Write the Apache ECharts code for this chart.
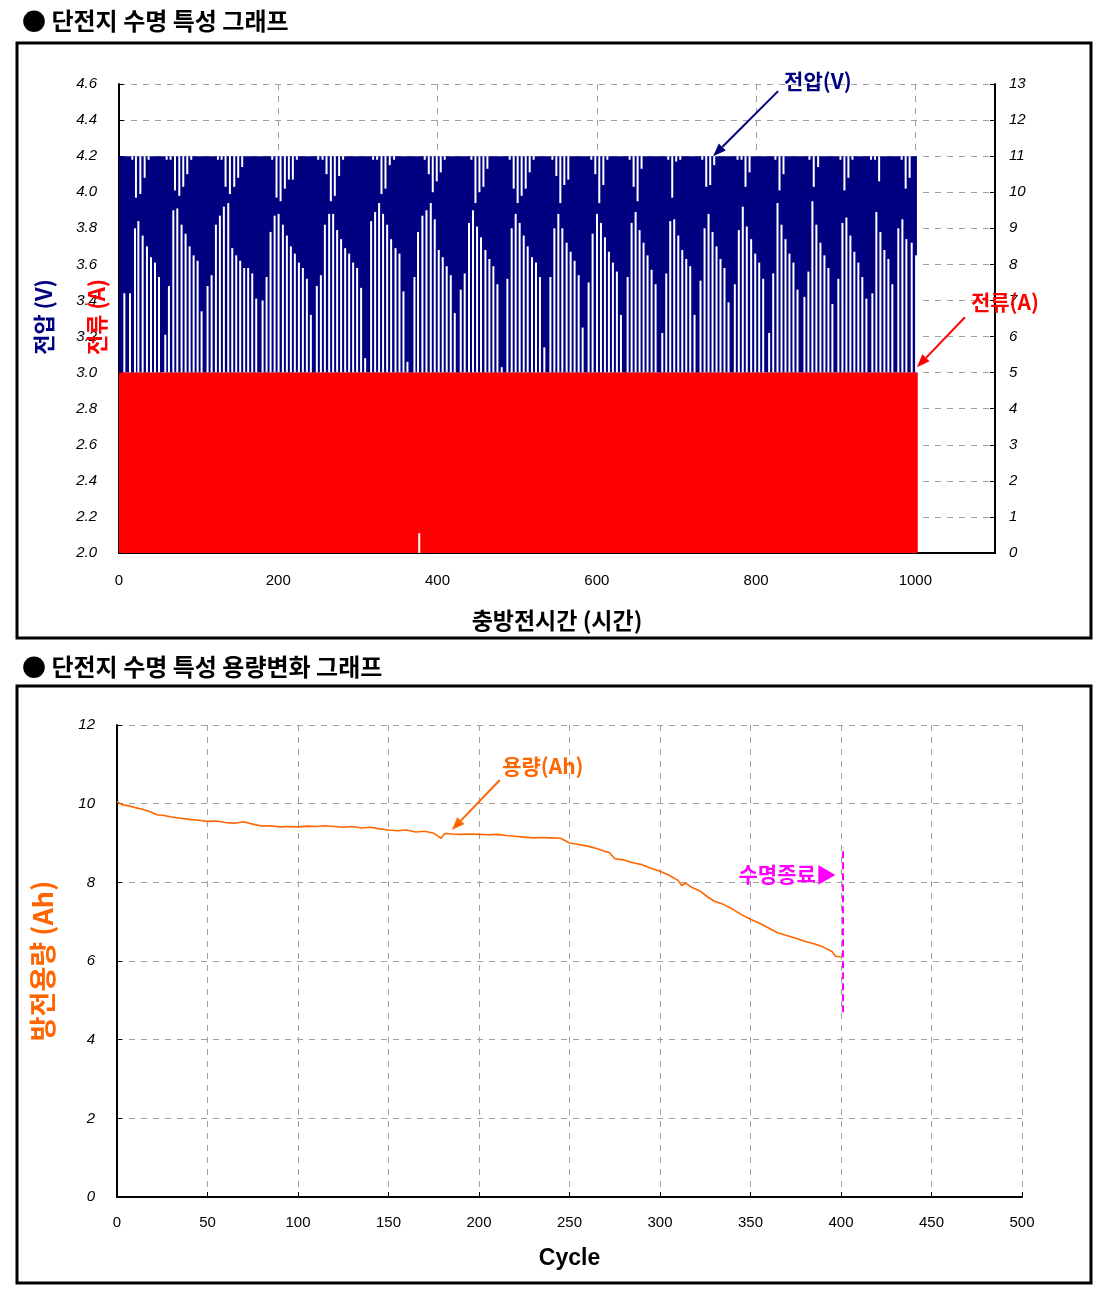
<!DOCTYPE html>
<html><head><meta charset="utf-8">
<script src="https://cdn.jsdelivr.net/npm/echarts@6/dist/echarts.min.js"></script>
<style>html,body{margin:0;padding:0;background:#fff}#c{width:1107px;height:1301px}</style>
</head><body><div id="c"></div>
<script>
// ---------------- DATA ----------------
// Chart 1: life-cycle test, time (h) vs voltage (V) and current (A)
const timeTicks = [0, 200, 400, 600, 800, 1000];
// voltage trace envelope (V) over the test duration (h)
const voltStart = 0, voltEnd = 1002, voltLow = 3.0, voltHigh = 4.2;
// current trace (A) over the test duration (h)
const currStart = 0, currEnd = 1003, currLow = 0, currHigh = 5;
// short interruption of the current trace: [time h, from A, to A]
const currGap = [[377, 0, 0.55]];
// gaps in the voltage trace (white strokes) rising from 3.0 V: time (h) and top (V)
const lowGapTime = [
  6.7,13.8,20.1,24.3,29.7,35.1,40.2,45.2,50.2,
  58.1,62.7,68.2,73.2,78.6,83.6,88.7,93.7,98.7,
  103.7,111.2,116.3,121.7,126.7,131.7,137.2,142.2,147.2,152.2,157.2,162.2,167.3,
  172.3,180.3,185.3,190.3,195.4,200.4,205.8,210.8,215.8,220.8,225.9,230.9,235.9,
  240.9,248.4,253.5,258.5,263.9,268.9,273.9,278.9,284.0,289.0,294.0,299.0,304.0,
  309.1,316.6,321.6,326.6,331.6,336.7,341.7,347.2,352.2,357.2,
  362.2,371.0,375.5,381.0,386.1,391.5,396.5,401.5,406.5,411.5,416.6,
  421.6,429.1,434.1,439.5,444.5,449.6,454.6,460.1,465.1,470.1,475.2,
  480.6,487.7,493.1,498.1,503.1,508.2,513.2,518.6,523.6,528.6,
  534.1,541.7,546.7,551.7,556.7,562.1,567.1,572.1,577.2,
  582.2,589.7,594.7,600.2,605.2,610.2,615.2,620.2,625.2,
  630.3,638.7,643.7,648.7,653.7,658.7,663.7,668.8,673.8,
  682.2,687.2,692.2,697.2,702.3,707.3,712.3,717.3,
  722.7,730.2,735.3,740.3,745.3,750.3,755.3,760.3,
  765.4,773.3,778.3,783.3,788.3,793.8,798.9,803.9,808.9,
  816.4,821.5,826.9,831.9,836.9,841.9,846.9,852.0,
  860.7,865.7,870.7,875.7,880.8,885.8,890.8,
  895.8,903.3,908.4,913.4,918.4,923.4,928.4,933.4,
  938.5,946.0,951.0,956.1,961.1,966.1,
  971.1,978.6,983.7,988.7,995.4,1000.9
];
const lowGapTop = [
  3.44,3.44,3.80,3.84,3.76,3.70,3.64,3.61,3.53,
  3.21,3.48,3.90,3.91,3.82,3.77,3.70,3.65,3.62,
  3.34,3.48,3.54,3.82,3.87,3.92,3.94,3.69,3.65,3.62,3.58,3.58,3.55,
  3.41,3.40,3.53,3.78,3.87,3.88,3.82,3.76,3.70,3.66,3.61,3.58,3.52,
  3.32,3.48,3.54,3.82,3.88,3.88,3.79,3.74,3.69,3.66,3.61,3.58,3.47,
  3.08,3.84,3.89,3.94,3.88,3.82,3.74,3.69,3.66,3.45,
  3.06,3.53,3.78,3.87,3.90,3.94,3.85,3.68,3.64,3.59,3.54,
  3.33,3.46,3.55,3.83,3.90,3.81,3.75,3.68,3.63,3.59,3.49,
  3.03,3.52,3.80,3.88,3.83,3.76,3.70,3.64,3.61,3.53,
  3.14,3.53,3.80,3.88,3.80,3.72,3.67,3.62,3.54,
  3.25,3.50,3.77,3.88,3.83,3.75,3.67,3.61,3.56,
  3.32,3.53,3.83,3.89,3.79,3.72,3.65,3.57,3.49,
  3.22,3.55,3.84,3.85,3.76,3.68,3.63,3.59,
  3.32,3.51,3.80,3.88,3.78,3.70,3.63,3.58,
  3.39,3.49,3.79,3.92,3.81,3.74,3.66,3.61,3.52,
  3.22,3.55,3.94,3.82,3.74,3.66,3.61,3.46,
  3.42,3.56,3.95,3.82,3.72,3.65,3.58,
  3.38,3.52,3.83,3.86,3.76,3.67,3.61,3.53,
  3.41,3.44,3.89,3.78,3.68,3.63,
  3.49,3.80,3.85,3.74,3.72,3.65
];
// gaps in the voltage trace hanging from 4.2 V: time (h) and bottom (V)
const highGapTime = [
  16.7,21.3,26.8,32.2,37.2,
  59.8,64.8,70.3,75.7,80.7,85.7,90.7,
  124.2,128.8,133.8,139.3,144.7,149.7,154.7,
  192.4,197.8,202.9,208.3,213.3,218.3,223.3,
  250.1,255.6,260.6,266.0,271.0,276.4,281.4,
  319.1,324.1,329.6,334.6,340.0,345.4,
  383.9,389.0,394.0,399.0,404.0,409.0,
  442.5,447.6,452.6,457.6,462.6,
  490.6,495.6,500.6,505.6,510.7,515.7,520.7,
  544.2,549.2,554.2,559.2,564.2,
  593.1,598.1,603.1,608.2,613.2,
  641.2,646.2,651.2,656.2,
  689.7,694.7,699.7,704.8,
  732.4,737.4,742.4,747.4,
  776.7,781.7,786.7,791.8,
  824.3,829.4,834.4,
  867.0,872.4,877.9,
  905.9,910.9,915.9,921.0,
  944.4,949.4,954.5,
  982.8,987.8,992.8
];
const highGapBottom = [
  4.18,3.97,3.99,4.08,4.18,
  4.18,4.18,4.01,3.98,4.03,4.10,4.18,
  4.18,4.18,4.03,3.99,4.03,4.08,4.14,
  4.18,3.97,3.95,4.02,4.07,4.07,4.18,
  4.18,4.18,4.10,3.95,3.98,4.09,4.18,
  4.18,4.18,3.99,4.02,4.15,4.18,
  4.18,4.10,4.00,4.06,4.11,4.18,
  4.18,3.94,4.00,4.03,4.13,
  4.18,4.02,3.94,3.98,4.02,4.11,4.18,
  4.18,4.09,3.94,4.04,4.07,
  4.18,4.10,3.94,4.04,4.18,
  4.18,4.03,3.95,4.13,
  4.18,3.97,4.17,4.18,
  4.18,4.03,4.04,4.15,
  4.18,4.18,4.03,4.11,
  4.18,4.01,4.10,
  4.18,4.03,4.14,
  4.18,4.01,4.08,4.18,
  4.18,4.18,4.06,
  4.18,4.02,4.08
];
// annotation anchors
const voltLabelAt = [746, 4.2];
const currLabelAt = [1002, 5.15];

// Chart 2: discharge capacity vs cycle
const capCycle = [0,3,6,10,14,18,22,26,30,35,40,45,50,55,60,65,70,75,80,85,90,95,100,105,110,115,120,125,130,
  135,140,145,150,155,160,165,170,175,179,181,185,190,195,200,205,210,215,220,225,230,235,240,245,248,250,255,
  260,265,270,272,275,280,285,290,295,300,305,310,312,314,318,322,326,330,335,340,345,350,355,360,365,370,375,
  380,385,390,395,397,400];
const capAh = [10.05,9.97,9.95,9.90,9.86,9.80,9.72,9.70,9.66,9.63,9.60,9.58,9.55,9.56,9.52,9.50,9.54,9.48,9.43,
  9.44,9.41,9.42,9.41,9.43,9.42,9.44,9.42,9.40,9.42,9.38,9.40,9.36,9.33,9.31,9.33,9.28,9.30,9.25,9.12,9.24,9.23,
  9.22,9.23,9.22,9.21,9.22,9.19,9.17,9.15,9.13,9.14,9.13,9.12,9.05,9.00,8.96,8.92,8.86,8.78,8.76,8.60,8.57,8.50,
  8.45,8.36,8.28,8.18,8.05,7.92,7.98,7.86,7.78,7.64,7.52,7.44,7.32,7.18,7.06,6.96,6.84,6.72,6.65,6.58,6.50,6.44,
  6.36,6.24,6.12,6.10];
const endOfLife = {cycle: 401, from: 4.7, to: 8.9};
const capLabelAt = [185, 9.33];
const eolLabelAt = [401, 8.2];

// ---------------- CHART ----------------
const KR = '"Noto Sans CJK KR","Noto Sans",sans-serif';
const NUM = '"Liberation Sans",Arial,sans-serif';
const NAVY = '#000080', RED = '#ff0000', ORANGE = '#ff6600', MAG = '#ff00ff';
const gridLine = {show: true, lineStyle: {color: '#a0a0a0', width: 1, type: [6, 6]}};
const blackLine = {show: true, onZero: false, lineStyle: {color: '#000', width: 2}};
const tick = {show: true, inside: true, length: 5, lineStyle: {color: '#000', width: 1}};

function bandItem(color) {
  return function (params, api) {
    const a = api.coord([api.value(0), api.value(3)]);
    const b = api.coord([api.value(1), api.value(2)]);
    return {type: 'rect', shape: {x: a[0], y: a[1], width: b[0] - a[0], height: b[1] - a[1]}, style: {fill: color}};
  };
}
function stripeItem(params, api) {
  const a = api.coord([api.value(0), api.value(2)]);
  const b = api.coord([api.value(0), api.value(1)]);
  return {type: 'rect', shape: {x: a[0] - 1, y: a[1], width: 2, height: b[1] - a[1]}, style: {fill: '#fff'}};
}

const lowGaps = lowGapTime.map((t, i) => [t, voltLow, lowGapTop[i]]);
const highGaps = highGapTime.map((t, i) => [t, highGapBottom[i], voltHigh]);

const chart = echarts.init(document.getElementById('c'), null, {renderer: 'canvas'});
const option = {
  animation: false,
  backgroundColor: '#fff',
  grid: [
    {left: 119, top: 84, width: 876, height: 469},
    {left: 117, top: 725, width: 905, height: 472}
  ],
  xAxis: [
    {gridIndex: 0, type: 'value', min: 0, max: 1100, interval: 200,
      axisLine: blackLine, axisTick: {show: false},
      axisLabel: {formatter: v => timeTicks.indexOf(v) >= 0 ? String(v) : '', color: '#000', fontSize: 15, fontFamily: NUM, margin: 20},
      splitLine: gridLine,
      name: '충방전시간 (시간)', nameLocation: 'middle', nameGap: 56,
      nameTextStyle: {color: '#000', fontSize: 23, fontWeight: 'bold', fontFamily: KR}},
    {gridIndex: 1, type: 'value', min: 0, max: 500, interval: 50,
      axisLine: blackLine, axisTick: tick,
      axisLabel: {color: '#000', fontSize: 15, fontFamily: NUM, margin: 18},
      splitLine: gridLine,
      name: 'Cycle', nameLocation: 'middle', nameGap: 50,
      nameTextStyle: {color: '#000', fontSize: 23, fontWeight: 'bold', fontFamily: NUM}}
  ],
  yAxis: [
    {gridIndex: 0, type: 'value', min: 2.0, max: 4.6, interval: 0.2,
      axisLine: blackLine, axisTick: tick,
      axisLabel: {formatter: v => v.toFixed(1), color: '#000', fontSize: 15, fontStyle: 'italic', fontFamily: NUM, margin: 22},
      splitLine: gridLine},
    {gridIndex: 0, type: 'value', position: 'right', min: 0, max: 13, interval: 1,
      axisLine: blackLine, axisTick: tick,
      axisLabel: {color: '#000', fontSize: 15, fontStyle: 'italic', fontFamily: NUM, margin: 14},
      splitLine: {show: false}},
    {gridIndex: 1, type: 'value', min: 0, max: 12, interval: 2,
      axisLine: blackLine, axisTick: tick,
      axisLabel: {color: '#000', fontSize: 15, fontStyle: 'italic', fontFamily: NUM, margin: 22},
      splitLine: gridLine,
      name: '방전용량 (Ah)', nameLocation: 'middle', nameGap: 61, nameRotate: 90,
      nameTextStyle: {color: ORANGE, fontSize: 27, fontWeight: 'bold', fontFamily: KR}}
  ],
  series: [
    {name: '전압(V)', type: 'custom', xAxisIndex: 0, yAxisIndex: 0, renderItem: bandItem(NAVY),
      encode: {x: [0, 1], y: [2, 3]}, data: [[voltStart, voltEnd, voltLow, voltHigh]], z: 2, silent: true},
    {name: '전압 gaps low', type: 'custom', xAxisIndex: 0, yAxisIndex: 0, renderItem: stripeItem,
      encode: {x: 0, y: [1, 2]}, data: lowGaps, z: 3, silent: true},
    {name: '전압 gaps high', type: 'custom', xAxisIndex: 0, yAxisIndex: 0, renderItem: stripeItem,
      encode: {x: 0, y: [1, 2]}, data: highGaps, z: 3, silent: true},
    {name: '전류(A)', type: 'custom', xAxisIndex: 0, yAxisIndex: 1, renderItem: bandItem(RED),
      encode: {x: [0, 1], y: [2, 3]}, data: [[currStart, currEnd, currLow, currHigh]], z: 4, silent: true},
    {name: '전류 gap', type: 'custom', xAxisIndex: 0, yAxisIndex: 1, renderItem: stripeItem,
      encode: {x: 0, y: [1, 2]}, data: currGap, z: 5, silent: true},
    {name: '용량(Ah)', type: 'line', xAxisIndex: 1, yAxisIndex: 2,
      data: capCycle.map((c, i) => [c, capAh[i]]), showSymbol: false, symbol: 'none',
      lineStyle: {color: ORANGE, width: 1.6}, z: 4,
      markLine: {silent: true, symbol: 'none', label: {show: false},
        lineStyle: {color: MAG, width: 2, type: [7, 4]},
        data: [[{coord: [endOfLife.cycle, endOfLife.from]}, {coord: [endOfLife.cycle, endOfLife.to]}]]}}
  ]
};
chart.setOption(option);

function arrow(head, dx, dy, color) {
  const start = [head[0] + dx, head[1] + dy];
  const len = Math.hypot(dx, dy), ux = -dx / len, uy = -dy / len;
  const hl = 13, hw = 5;
  const bx = head[0] - ux * hl, by = head[1] - uy * hl;
  return [
    {type: 'line', shape: {x1: start[0], y1: start[1], x2: bx, y2: by}, style: {stroke: color, lineWidth: 2}, z: 100},
    {type: 'polygon', shape: {points: [head, [bx - uy * hw, by + ux * hw], [bx + uy * hw, by - ux * hw]]}, style: {fill: color}, z: 100}
  ];
}
function txt(x, y, text, color, size, align, rot) {
  return {type: 'text', x: x, y: y, rotation: rot || 0, z: 100,
    style: {text: text, fill: color, fontSize: size, fontWeight: 'bold', fontFamily: KR, align: align || 'left', verticalAlign: 'middle'}};
}

const pV = chart.convertToPixel({xAxisIndex: 0, yAxisIndex: 0}, voltLabelAt);
const pA = chart.convertToPixel({xAxisIndex: 0, yAxisIndex: 1}, currLabelAt);
const pC = chart.convertToPixel({xAxisIndex: 1, yAxisIndex: 2}, capLabelAt);
const pE = chart.convertToPixel({xAxisIndex: 1, yAxisIndex: 2}, eolLabelAt);

const graphics = [
  {type: 'rect', shape: {x: 17, y: 43, width: 1074, height: 595}, style: {fill: 'none', stroke: '#000', lineWidth: 3}, z: 50},
  {type: 'rect', shape: {x: 17, y: 686, width: 1074, height: 597}, style: {fill: 'none', stroke: '#000', lineWidth: 3}, z: 50},
  txt(22, 21, '● 단전지 수명 특성 그래프', '#000', 24),
  txt(22, 667, '● 단전지 수명 특성 용량변화 그래프', '#000', 24),
  txt(44, 317, '전압 (V)', NAVY, 22, 'center', Math.PI / 2),
  txt(97, 317, '전류 (A)', RED, 22, 'center', Math.PI / 2),
  txt(pV[0] + 71, pV[1] - 75, '전압(V)', NAVY, 21),
  txt(pA[0] + 88, pA[1] - 65, '전류(A)', RED, 21, 'center'),
  txt(pC[0] + 91, pC[1] - 64, '용량(Ah)', ORANGE, 21, 'center'),
  txt(pE[0] - 6, pE[1], '수명종료▶', MAG, 21, 'right'),
  ...arrow(pV, 65, -65, NAVY),
  ...arrow(pA, 48, -50, RED),
  ...arrow(pC, 48, -50, ORANGE)
];
chart.setOption({graphic: graphics});
</script></body></html>
